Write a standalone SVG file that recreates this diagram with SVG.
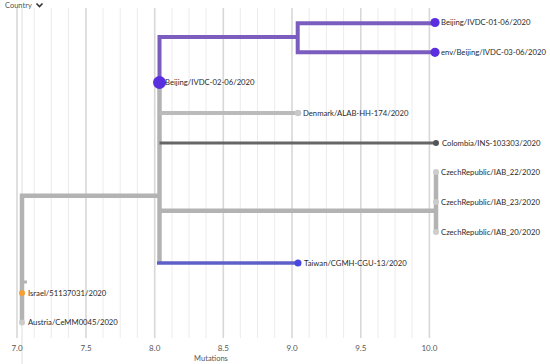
<svg xmlns="http://www.w3.org/2000/svg" width="550" height="364" viewBox="0 0 550 364">
<style>
.minor{stroke:#ececec;stroke-width:1}
.major{stroke:#d8d8d8;stroke-width:1.6}
.lbl{font-family:Lato,"Liberation Sans",sans-serif;font-size:7.7px;fill:#2a2a2a}
.tick{font-family:Lato,"Liberation Sans",sans-serif;font-size:8px;fill:#555;text-anchor:middle}
.br{fill:none;stroke-linecap:butt}
.gray{stroke:#b3b3b3;stroke-width:4.5}
.purple{stroke:#7b5cbf;stroke-width:4}
</style>
<rect width="550" height="364" fill="#fff"/>
<g id="grid">
<line class="minor" x1="34.2" y1="8" x2="34.2" y2="338"/>
<line class="minor" x1="51.3" y1="8" x2="51.3" y2="338"/>
<line class="minor" x1="68.5" y1="8" x2="68.5" y2="338"/>
<line class="minor" x1="103" y1="8" x2="103" y2="338"/>
<line class="minor" x1="120.2" y1="8" x2="120.2" y2="338"/>
<line class="minor" x1="137.4" y1="8" x2="137.4" y2="338"/>
<line class="minor" x1="172" y1="8" x2="172" y2="338"/>
<line class="minor" x1="189" y1="8" x2="189" y2="338"/>
<line class="minor" x1="206" y1="8" x2="206" y2="338"/>
<line class="minor" x1="240.3" y1="8" x2="240.3" y2="338"/>
<line class="minor" x1="257.5" y1="8" x2="257.5" y2="338"/>
<line class="minor" x1="274.7" y1="8" x2="274.7" y2="338"/>
<line class="minor" x1="309.2" y1="8" x2="309.2" y2="338"/>
<line class="minor" x1="326.4" y1="8" x2="326.4" y2="338"/>
<line class="minor" x1="343.6" y1="8" x2="343.6" y2="338"/>
<line class="minor" x1="378" y1="8" x2="378" y2="338"/>
<line class="minor" x1="395" y1="8" x2="395" y2="338"/>
<line class="minor" x1="412" y1="8" x2="412" y2="338"/>
<line class="major" x1="17" y1="8" x2="17" y2="338"/>
<line class="major" x1="86" y1="8" x2="86" y2="338"/>
<line class="major" x1="154.7" y1="8" x2="154.7" y2="338"/>
<line class="major" x1="223.3" y1="8" x2="223.3" y2="338"/>
<line class="major" x1="292" y1="8" x2="292" y2="338"/>
<line class="major" x1="360.8" y1="8" x2="360.8" y2="338"/>
<line class="major" x1="429.4" y1="8" x2="429.4" y2="338"/>
<line x1="22" y1="8" x2="22" y2="364" stroke="#dedede" stroke-width="1"/>
</g>
<g id="axis">
<text class="tick" x="17" y="351">7.0</text>
<text class="tick" x="86" y="351">7.5</text>
<text class="tick" x="154.7" y="351">8.0</text>
<text class="tick" x="223.3" y="351">8.5</text>
<text class="tick" x="292" y="351">9.0</text>
<text class="tick" x="360.8" y="351">9.5</text>
<text class="tick" x="429.4" y="351">10.0</text>
<text class="tick" x="211" y="361" style="font-size:7.5px">Mutations</text>
</g>
<g id="legend">
<text x="5" y="8" style="font-family:Lato,'Liberation Sans',sans-serif;font-size:7.5px;fill:#555">Country</text>
<path d="M36.5 3.5 L39.5 6.5 L42.5 3.5" fill="none" stroke="#333" stroke-width="1.6"/>
</g>
<g id="connectors">
<path class="br gray" d="M22 322 V195.7 H159.5"/>
<rect x="22" y="280.5" width="5" height="3" fill="#b3b3b3"/>
<path class="br gray" d="M159.5 82 V263"/>
<path class="br purple" d="M159.5 82 V37 H297.7"/>
<path class="br purple" d="M435 23.3 H297.7 V52.3 H435"/>
<path class="br" d="M159.5 113 H298" stroke="#bbb" stroke-width="4"/>
<path class="br" d="M159.5 143 H436" stroke="#666" stroke-width="3"/>
<path class="br gray" d="M159.5 210.7 H436"/>
<path class="br gray" d="M436 172 V233"/>
<path class="br" d="M157 263 H298" stroke="#5f5fc9" stroke-width="3.5"/>
</g>
<g id="n-beijing01"><circle cx="435" cy="22.5" r="4.6" fill="#5a2fe0"/><text class="lbl" x="441" y="25">Beijing/IVDC-01-06/2020</text></g>
<g id="n-envbeijing03"><circle cx="435" cy="52.3" r="4.6" fill="#5a2fe0"/><text class="lbl" x="441" y="55">env/Beijing/IVDC-03-06/2020</text></g>
<g id="n-beijing02"><circle cx="159.5" cy="82.5" r="6.5" fill="#5a2fe0"/><text class="lbl" x="165" y="85">Beijing/IVDC-02-06/2020</text></g>
<g id="n-denmark"><circle cx="298" cy="113" r="3.3" fill="#c8c8c8"/><text class="lbl" x="303" y="115.5">Denmark/ALAB-HH-174/2020</text></g>
<g id="n-colombia"><circle cx="436" cy="143" r="3" fill="#555"/><text class="lbl" x="442" y="145.5">Colombia/INS-103303/2020</text></g>
<g id="n-czech22"><circle cx="436" cy="172" r="3" fill="#ccc"/><text class="lbl" x="441" y="174.5">CzechRepublic/IAB_22/2020</text></g>
<g id="n-czech23"><circle cx="436" cy="202" r="3" fill="#ccc"/><text class="lbl" x="441" y="204.5">CzechRepublic/IAB_23/2020</text></g>
<g id="n-czech20"><circle cx="436" cy="232" r="3" fill="#ccc"/><text class="lbl" x="441" y="234.5">CzechRepublic/IAB_20/2020</text></g>
<g id="n-taiwan"><circle cx="298" cy="263" r="3.5" fill="#4848e0"/><text class="lbl" x="304" y="265.5">Taiwan/CGMH-CGU-13/2020</text></g>
<g id="n-israel"><circle cx="22" cy="293" r="3" fill="#f5a030"/><text class="lbl" x="28" y="295.5">Israel/51137031/2020</text></g>
<g id="n-austria"><circle cx="22" cy="322.5" r="3" fill="#ccc"/><text class="lbl" x="28" y="325">Austria/CeMM0045/2020</text></g>
</svg>
